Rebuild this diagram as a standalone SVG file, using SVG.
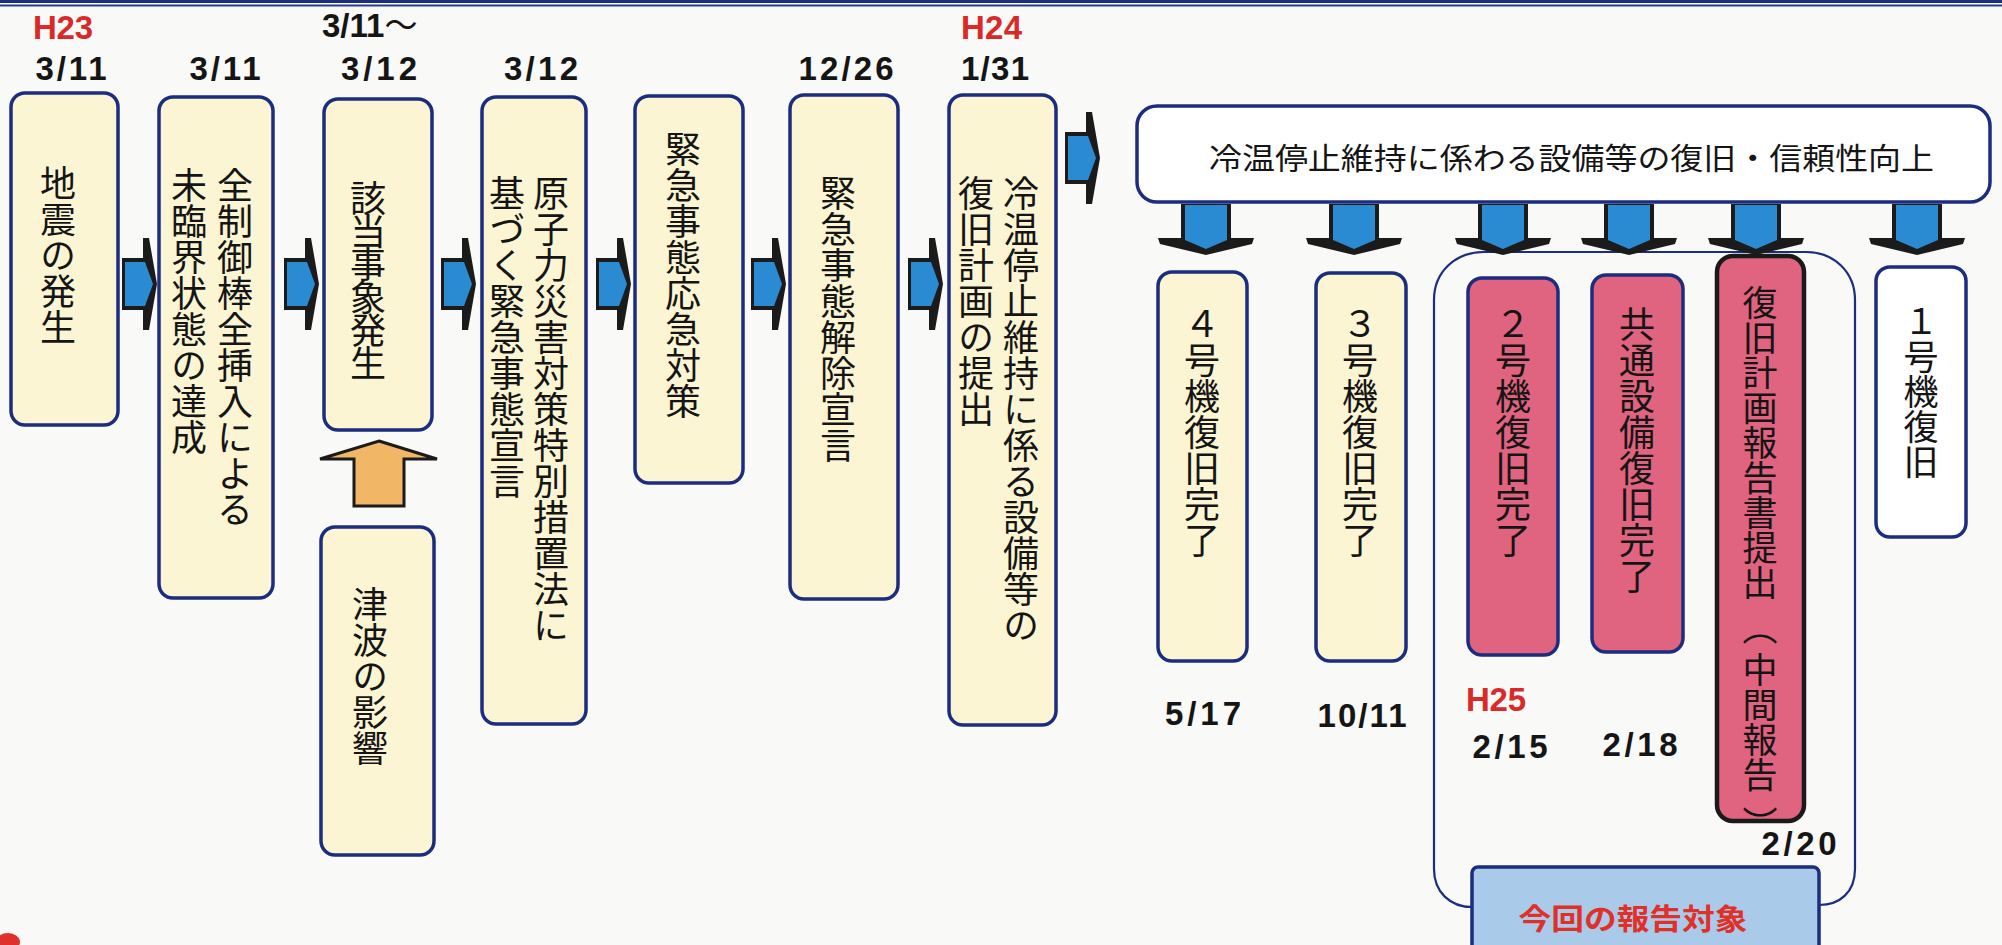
<svg xmlns="http://www.w3.org/2000/svg" xmlns:xlink="http://www.w3.org/1999/xlink" width="2002" height="945" viewBox="0 0 2002 945">
<style>
.box{fill:#fcf5d3;stroke:#1c2d80;stroke-width:3.5}
.pink{fill:#e0637f;stroke:#1c2d80;stroke-width:3.5}
.pinkd{fill:#e0637f;stroke:#1a1a1a;stroke-width:4.5}
.wbox{fill:#ffffff;stroke:#1c2d80;stroke-width:3.5}
.vt{font-family:"Noto Sans CJK JP","Noto Sans CJK SC",sans-serif;font-size:36px;writing-mode:vertical-rl;fill:#151515;text-spacing-trim:space-all}
.date{font-family:"Liberation Sans",Arial,sans-serif;font-weight:bold;font-size:33px;fill:#151515;text-anchor:middle}
.era{font-family:"Liberation Sans",Arial,sans-serif;font-weight:bold;font-size:33px;fill:#d92a2a}
.title{font-family:"Noto Sans CJK JP","Noto Sans CJK SC",sans-serif;font-size:30px;fill:#151515}
.blk{fill:#1b1b1b}
.blu{fill:#2a8bd2}
</style>
<defs>
<g id="ha">
<polygon class="blk" points="0,-26 21,-26 21,-46 27,-46 35,0 27,46 21,46 21,26 0,26"/>
<polygon class="blu" points="3,-22 23,-22 31,0 23,22 3,22"/>
</g>
<g id="da">
<polygon class="blk" points="-25,0 25,0 25,34 48,34 46,40 0,51 -46,40 -48,34 -25,34"/>
<polygon class="blu" points="-21,1 21,1 21,36 0,45 -21,36"/>
</g>
</defs>
<rect x="0" y="0" width="2002" height="945" fill="#f9f9f7"/>
<rect x="0" y="0" width="2002" height="3" fill="#1d2f7a"/>
<rect x="0" y="4.5" width="2002" height="2" fill="#2a3c8a"/>

<g id="labels">
<text class="era" x="33" y="39" textLength="60">H23</text>
<text class="date" x="71" y="80" textLength="71">3/11</text>
<text class="date" x="225" y="80" textLength="71">3/11</text>
<text class="date" x="322" y="37" style="text-anchor:start">3/11<tspan font-family="Noto Sans CJK JP" font-weight="normal">～</tspan></text>
<text class="date" x="379" y="80" textLength="76">3/12</text>
<text class="date" x="541" y="80" textLength="74">3/12</text>
<text class="date" x="846" y="80" textLength="95">12/26</text>
<text class="era" x="961" y="39" textLength="61">H24</text>
<text class="date" x="995" y="80" textLength="68">1/31</text>
<text class="date" x="1203" y="725" textLength="76">5/17</text>
<text class="date" x="1362" y="727" textLength="89">10/11</text>
<text class="era" x="1466" y="711" textLength="60">H25</text>
<text class="date" x="1510" y="758" textLength="75">2/15</text>
<text class="date" x="1640" y="756" textLength="75">2/18</text>
<text class="date" x="1799" y="855" textLength="75">2/20</text>
</g>

<g id="group-container">
<path d="M1472,907 C1450,907 1434,892 1434,869 L1434,300 C1434,272 1455,252 1484,252 L1806,252 C1834,252 1855,272 1855,300 L1855,869 C1855,892 1840,905 1819,905" fill="none" stroke="#1c2d80" stroke-width="2.2"/>
</g>

<g id="connectors">
<use xlink:href="#ha" x="122" y="284"/>
<use xlink:href="#ha" x="284" y="284"/>
<use xlink:href="#ha" x="441" y="284"/>
<use xlink:href="#ha" x="596" y="284"/>
<use xlink:href="#ha" x="751" y="284"/>
<use xlink:href="#ha" x="908" y="284"/>
<use xlink:href="#ha" x="1065" y="158"/>
<use xlink:href="#da" x="1206" y="204"/>
<use xlink:href="#da" x="1354" y="204"/>
<use xlink:href="#da" x="1503" y="204"/>
<use xlink:href="#da" x="1629" y="204"/>
<use xlink:href="#da" x="1756" y="204"/>
<use xlink:href="#da" x="1917" y="204"/>
<polygon points="379,441 437,459 404,459 404,506 354,506 354,459 320,459" fill="#f2b766" stroke="#1b1b1b" stroke-width="3" stroke-linejoin="miter"/>
</g>

<g id="n1"><rect class="box" x="11" y="93" width="107" height="332" rx="14"/><text class="vt" x="58" y="165">地震の発生</text></g>
<g id="n2"><rect class="box" x="159" y="97" width="114" height="501" rx="14"/><text class="vt" x="235" y="167">全制御棒全挿入による</text><text class="vt" x="189" y="167">未臨界状態の達成</text></g>
<g id="n3"><rect class="box" x="324" y="99" width="108" height="331" rx="14"/><text class="vt" x="368" y="180" style="letter-spacing:-3px">該当事象発生</text></g>
<g id="n3b"><rect class="box" x="321" y="527" width="113" height="328" rx="14"/><text class="vt" x="370" y="586">津波の影響</text></g>
<g id="n4"><rect class="box" x="482" y="97" width="104" height="627" rx="14"/><text class="vt" x="551" y="175">原子力災害対策特別措置法に</text><text class="vt" x="507" y="175">基づく緊急事態宣言</text></g>
<g id="n5"><rect class="box" x="635" y="96" width="108" height="387" rx="14"/><text class="vt" x="683" y="131">緊急事態応急対策</text></g>
<g id="n6"><rect class="box" x="790" y="95" width="108" height="504" rx="14"/><text class="vt" x="838" y="175">緊急事態解除宣言</text></g>
<g id="n7"><rect class="box" x="949" y="95" width="107" height="630" rx="14"/><text class="vt" x="1021" y="175">冷温停止維持に係る設備等の</text><text class="vt" x="976" y="175">復旧計画の提出</text></g>
<g id="top"><rect class="wbox" x="1137" y="106" width="853" height="96" rx="20"/><text class="title" x="1209" y="169" textLength="725" lengthAdjust="spacingAndGlyphs">冷温停止維持に係わる設備等の復旧・信頼性向上</text></g>
<g id="b4"><rect class="box" x="1158" y="272" width="89" height="389" rx="14"/><text class="vt" x="1202" y="306">４号機復旧完了</text></g>
<g id="b3"><rect class="box" x="1316" y="273" width="90" height="388" rx="14"/><text class="vt" x="1360" y="306">３号機復旧完了</text></g>
<g id="b2"><rect class="pink" x="1468" y="278" width="90" height="377" rx="14"/><text class="vt" x="1513" y="306">２号機復旧完了</text></g>
<g id="bc"><rect class="pink" x="1592" y="275" width="91" height="377" rx="14"/><text class="vt" x="1637" y="306">共通設備復旧完了</text></g>
<g id="bp"><rect class="pinkd" x="1717" y="256" width="87" height="565" rx="16"/>
<text class="vt" x="1760" y="285" style="font-size:35px">復旧計画報告書提出</text>
<text class="vt" x="1760" y="610" style="font-size:35px">（</text>
<text class="vt" x="1760" y="652" style="font-size:35px">中間報告</text>
<text class="vt" x="1760" y="806" style="font-size:35px">）</text></g>
<g id="b1"><rect class="wbox" x="1876" y="267" width="90" height="270" rx="14"/><text class="vt" x="1921" y="304" style="font-size:35px">１号機復旧</text></g>
<g id="target"><rect x="1472" y="867" width="347" height="90" rx="6" fill="#a9cbe9" stroke="#1c2d80" stroke-width="3.5"/><text x="1633" y="930" text-anchor="middle" textLength="229" lengthAdjust="spacingAndGlyphs" style="font-family:'Noto Sans CJK JP','Noto Sans CJK SC',sans-serif;font-weight:bold;font-size:29px;fill:#e0302a">今回の報告対象</text></g>
<ellipse cx="8" cy="942" rx="12" ry="9" fill="#e0302a"/>
</svg>
